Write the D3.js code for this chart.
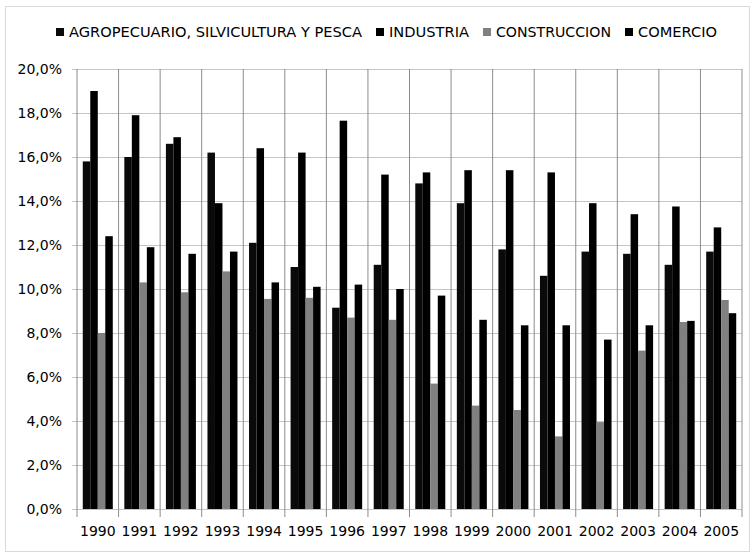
<!DOCTYPE html>
<html>
<head>
<meta charset="utf-8">
<script src="https://cdn.jsdelivr.net/npm/d3@7"></script>
<style>
  body { margin: 0; background: #fff; }
  svg text { font-family: "DejaVu Sans", sans-serif; fill: #000; }
</style>
</head>
<body>
<div id="chart"></div>
<script>
// ---- data (percent) ----
const years = ["1990","1991","1992","1993","1994","1995","1996","1997",
               "1998","1999","2000","2001","2002","2003","2004","2005"];
const seriesNames = ["AGROPECUARIO, SILVICULTURA Y PESCA", "INDUSTRIA", "CONSTRUCCION", "COMERCIO"];
const seriesColors = ["#0a0a0a", "#000000", "#808080", "#000000"];

const agro         = [15.8, 16.0, 16.6, 16.2, 12.1, 11.0, 9.15, 11.1, 14.8, 13.9, 11.8, 10.6, 11.7, 11.6, 11.1, 11.7];
const industria    = [19.0, 17.9, 16.9, 13.9, 16.4, 16.2, 17.65, 15.2, 15.3, 15.4, 15.4, 15.3, 13.9, 13.4, 13.75, 12.8];
const construccion = [8.0, 10.3, 9.85, 10.8, 9.55, 9.6, 8.7, 8.6, 5.7, 4.7, 4.5, 3.3, 3.95, 7.2, 8.5, 9.5];
const comercio     = [12.4, 11.9, 11.6, 11.7, 10.3, 10.1, 10.2, 10.0, 9.7, 8.6, 8.35, 8.35, 7.7, 8.35, 8.55, 8.9];

const yTicks = [0, 2, 4, 6, 8, 10, 12, 14, 16, 18, 20];

const allSeries = [agro, industria, construccion, comercio];

// ---- layout ----
const W = 752, H = 554;
const margin = { left: 77, right: 10, top: 69, bottom: 45 };
// widths the legend labels take up in the reference
const legendWidths = [293, 80, 115, 79];

const svg = d3.select("#chart").append("svg")
    .attr("width", W).attr("height", H);

// outer frame
svg.append("rect")
    .attr("x", 5.5).attr("y", 6.5)
    .attr("width", W - 8).attr("height", H - 9)
    .attr("fill", "#fff").attr("stroke", "#d9d9d9");

const x = d3.scaleBand()
    .domain(years)
    .range([margin.left, W - margin.right])
    .padding(0);

const xs = d3.scaleBand()
    .domain(d3.range(seriesNames.length))
    .range([0, x.bandwidth()])
    .paddingInner(0)
    .paddingOuter(0.77);

const y = d3.scaleLinear()
    .domain([0, 20])
    .range([H - margin.bottom, margin.top]);

// horizontal gridlines + y labels
const yAxis = d3.axisLeft(y)
    .tickValues(yTicks)
    .tickSize(0)
    .tickFormat(d => d.toFixed(1).replace(".", ",") + "%");

const gy = svg.append("g")
    .attr("transform", `translate(${margin.left - 5},0)`)
    .call(yAxis);
gy.select(".domain").remove();
gy.selectAll(".tick line").attr("stroke", "#c6c6c6")
    .attr("x1", 0).attr("x2", W - margin.right - margin.left + 5);
gy.selectAll(".tick text").attr("font-size", 14).attr("x", -10)
    .attr("dy", "0.35em");

// vertical separators (category boundaries), extending below the axis
const bounds = years.map(d => x(d)).concat([W - margin.right]);
svg.append("g").selectAll("line")
    .data(bounds)
    .join("line")
    .attr("x1", d => d).attr("x2", d => d)
    .attr("y1", margin.top).attr("y2", y(0) + 8)
    .attr("stroke", "#8c8c8c")
    .attr("stroke-width", 1);

// bars
const groups = svg.append("g").selectAll("g")
    .data(years)
    .join("g")
    .attr("transform", d => `translate(${x(d)},0)`);

groups.selectAll("rect")
    .data((d, i) => allSeries.map((s, k) => ({ k: k, v: s[i] })))
    .join("rect")
    .attr("x", d => xs(d.k))
    .attr("width", xs.bandwidth())
    .attr("y", d => y(d.v))
    .attr("height", d => y(0) - y(d.v))
    .attr("fill", d => seriesColors[d.k]);

// x labels
const xAxis = d3.axisBottom(x).tickSize(0).tickPadding(17);
const gx = svg.append("g")
    .attr("transform", `translate(0,${y(0)})`)
    .call(xAxis);
gx.select(".domain").remove();
gx.selectAll(".tick text").attr("font-size", 14);

// legend
const legend = svg.append("g").attr("transform", "translate(56,32)");
let lx = 0;
seriesNames.forEach((name, k) => {
    legend.append("rect")
        .attr("x", lx).attr("y", -4)
        .attr("width", 8).attr("height", 8)
        .attr("fill", seriesColors[k]);
    legend.append("text")
        .attr("x", lx + 13).attr("y", 0)
        .attr("dy", "0.35em")
        .attr("font-size", 14)
        .attr("textLength", legendWidths[k])
        .attr("lengthAdjust", "spacingAndGlyphs")
        .text(name);
    lx += 13 + legendWidths[k] + 14;
});
</script>
</body>
</html>
